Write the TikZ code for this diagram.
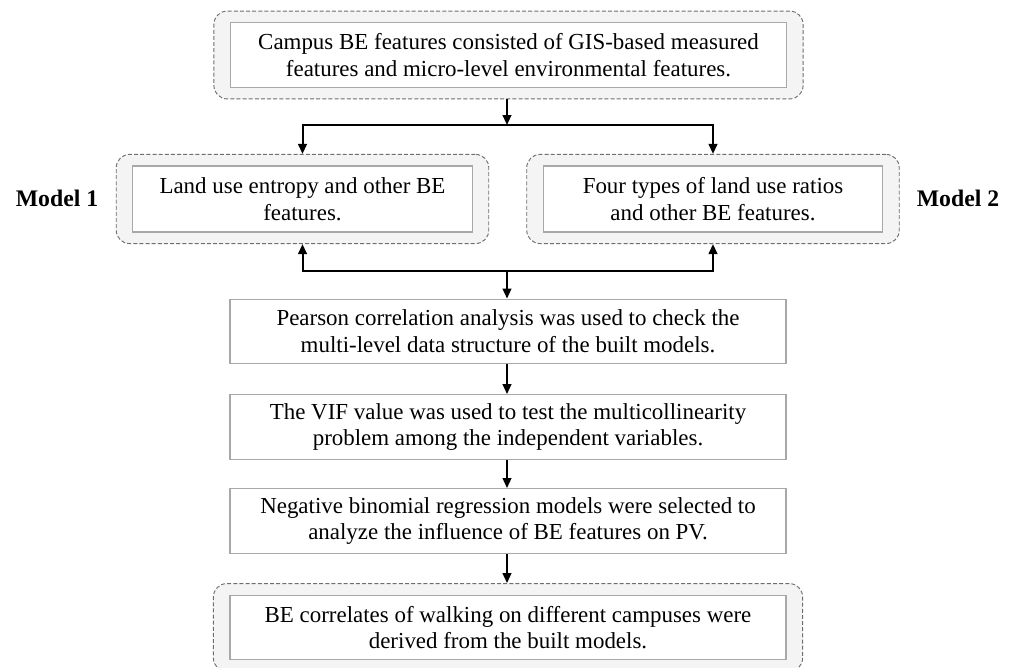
\documentclass[tikz,border=0pt]{standalone}
\usepackage{fontspec}
\setmainfont{Liberation Serif}
\usepackage{xcolor}
\usepackage{tikz}
\usetikzlibrary{calc, arrows.meta, fit, backgrounds}

\definecolor{frame fill}{HTML}{F4F4F4}
\definecolor{frame line}{HTML}{6E6E6E}
\definecolor{box line}{HTML}{A8A8A8}

\tikzset{
	text box/.style = {draw = box line, line width = 0.9pt, fill = white, align = center, inner sep = 0pt, font = \fontsize{17.2}{20}\selectfont},
	wide box/.style = {text box, minimum width = 417pt, minimum height = 48.5pt},
	model box/.style = {text box, minimum width = 254.5pt, minimum height = 49.5pt},
	dashed frame/.style = {draw = frame line, dash pattern = on 3pt off 1.6pt, line width = 0.7pt, fill = frame fill, rounded corners = 10pt, inner xsep = 12pt, inner ysep = 8.25pt},
	model label/.style = {font = \fontsize{17.8}{20}\selectfont\bfseries},
	flow/.style = {line width = 1.5pt},
	flow arrow/.style = {flow, -{Triangle[length = 7.5pt, width = 6.5pt]}}
}

\begin{document}
\begin{tikzpicture}[x = 0.75pt, y = -0.75pt]
		\useasboundingbox (0, 0) rectangle (1011, 668);
		
		\node [wide box] (campus box) at (508.5, 55) {Campus BE features consisted of GIS-based measured\\features and micro-level environmental features.};
		
		\node [model box] (entropy box) at (302.5, 199) {Land use entropy and other BE\\features.};
		\node [model box] (ratio box) at (713, 199) {Four types of land use ratios\\and other BE features.};
		
		\node [model label] (model one) at (57, 198) {Model 1};
		\node [model label] (model two) at (958, 198) {Model 2};
		
		\node [wide box] (pearson box) at (508, 331.5) {Pearson correlation analysis was used to check the\\multi-level data structure of the built models.};
		\node [wide box] (vif box) at (508, 427) {The VIF value was used to test the multicollinearity\\problem among the independent variables.};
		\node [wide box] (regression box) at (508, 521) {Negative binomial regression models were selected to\\analyze the influence of BE features on PV.};
		\node [wide box] (result box) at (508, 627.5) {BE correlates of walking on different campuses were\\derived from the built models.};
		
		\begin{scope}[on background layer]
			\node [dashed frame, fit = (campus box)] (campus frame) {};
			\node [dashed frame, fit = (entropy box)] (entropy frame) {};
			\node [dashed frame, fit = (ratio box)] (ratio frame) {};
			\node [dashed frame, fit = (result box)] (result frame) {};
		\end{scope}
		
		\coordinate (split) at (507, 125);
		\coordinate (split left) at (entropy frame.north |- split);
		\coordinate (split right) at (ratio frame.north |- split);
		
		\coordinate (merge) at (507, 271);
		\coordinate (merge left) at (entropy frame.south |- merge);
		\coordinate (merge right) at (ratio frame.south |- merge);
		
		\draw [flow arrow] (campus frame.south -| split) -- (split);
		\draw [flow, line cap = rect] (split left) -- (split right);
		\draw [flow arrow] (split left) -- (entropy frame.north);
		\draw [flow arrow] (split right) -- (ratio frame.north);
		
		\draw [flow, line cap = rect] (merge left) -- (merge right);
		\draw [flow arrow] (merge left) -- (entropy frame.south);
		\draw [flow arrow] (merge right) -- (ratio frame.south);
		\draw [flow arrow] (merge) -- (pearson box.north -| merge);
		
		\draw [flow arrow] (pearson box.south -| merge) -- (vif box.north -| merge);
		\draw [flow arrow] (vif box.south -| merge) -- (regression box.north -| merge);
		\draw [flow arrow] (regression box.south -| merge) -- (result frame.north -| merge);
	\end{tikzpicture}
\end{document}
